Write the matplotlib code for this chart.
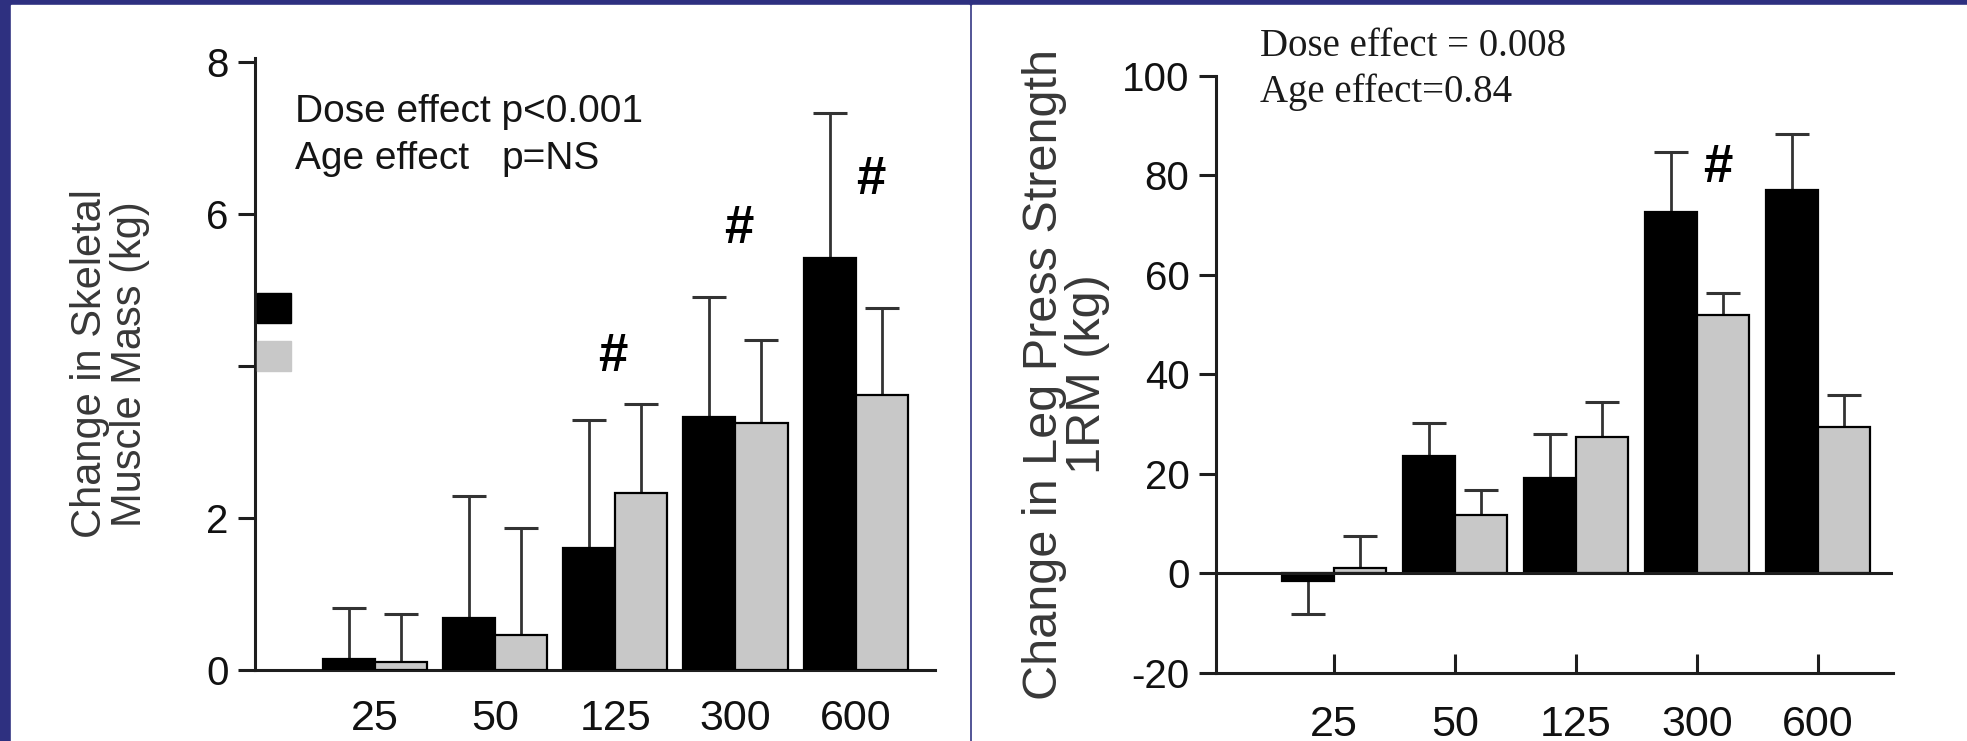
import numpy as np
import matplotlib.pyplot as plt
from matplotlib import font_manager
from matplotlib.patches import Rectangle

plt.rcParams['axes.unicode_minus'] = False

# dose groups (mg)
doses = ['25', '50', '125', '300', '600']

# change in skeletal muscle mass (kg): black = young, gray = older
mass_black = [0.15, 0.68, 1.61, 3.33, 5.42]
mass_black_err = [0.66, 1.61, 1.68, 1.58, 1.91]
mass_gray = [0.11, 0.46, 2.33, 3.25, 3.62]
mass_gray_err = [0.63, 1.41, 1.17, 1.09, 1.14]
mass_sig = ['125', '300', '600']

# change in leg press 1RM (kg)
press_black = [-1.6, 23.6, 19.1, 72.6, 77.0]
press_black_err = [6.5, 6.6, 9.0, 12.1, 11.4]
press_gray = [1.2, 11.8, 27.5, 51.9, 29.4]
press_gray_err = [6.4, 4.9, 6.9, 4.4, 6.5]
press_sig = ['300']

NAVY = '#2e3080'
GRAY = '#c8c8c8'
INK = '#1e1e1e'
ERR = '#333333'

names = {f.name for f in font_manager.fontManager.ttflist}
NARROW = 'Liberation Sans Narrow' in names
SANS = ['Liberation Sans Narrow', 'Liberation Sans'] if NARROW else ['Liberation Sans']
ytick_fs = 34 if NARROW else 29
xtick_fs = 36 if NARROW else 31
note_fs = 32 if NARROW else 28


def draw_bars(ax, black, black_err, gray, gray_err, width):
    x = np.arange(len(doses))
    for vals, errs, off, color in [(black, black_err, -width / 2, 'black'),
                                   (gray, gray_err, width / 2, GRAY)]:
        vals = np.asarray(vals, dtype=float)
        errs = np.asarray(errs, dtype=float)
        pos = x + off
        ax.bar(pos, vals, width, color=color, edgecolor='black', linewidth=1.6, zorder=3)
        tips = vals + np.sign(vals) * errs
        ax.vlines(pos, vals, tips, color=ERR, lw=2.0, zorder=2)
        ax.plot(pos, tips, ls='none', marker='_', ms=24, mew=2.2, color=ERR, zorder=2)


def style_axes(ax):
    ax.set_facecolor('none')
    for side in ['top', 'right']:
        ax.spines[side].set_visible(False)
    for side in ['left', 'bottom']:
        ax.spines[side].set_linewidth(2.2)
        ax.spines[side].set_color(INK)
    ax.set_xticks(np.arange(len(doses)))
    ax.set_xticklabels(doses, fontsize=xtick_fs, family=SANS, color='#111111')
    ax.tick_params(axis='y', direction='out', length=12, width=2.2, color=INK,
                   pad=7, labelsize=ytick_fs, labelcolor='#111111')
    for lab in ax.get_yticklabels():
        lab.set_family(SANS)


fig = plt.figure(figsize=(19.67, 7.41), dpi=100, facecolor=NAVY)
fig.add_artist(Rectangle((11 / 1967, 0), 958 / 1967, 736 / 741,
                         transform=fig.transFigure, color='white', zorder=-1))
fig.add_artist(Rectangle((972 / 1967, 0), 995 / 1967, 736 / 741,
                         transform=fig.transFigure, color='white', zorder=-1))

# left panel: skeletal muscle mass
ax1 = fig.add_axes([0.1296, 0.0958, 0.3457, 0.8259])
draw_bars(ax1, mass_black, mass_black_err, mass_gray, mass_gray_err, 0.433)
ax1.set_xlim(-1.0, 4.66)
ax1.set_ylim(0, 8.05)
ax1.set_yticks([0, 2, 4, 6, 8])
ax1.set_yticklabels(['0', '2', '', '6', '8'])
style_axes(ax1)
ax1.tick_params(axis='x', length=0, pad=21)

for dose, dx, y in zip(mass_sig, [-0.02, 0.03, 0.13], [4.12, 5.8, 6.45]):
    ax1.text(doses.index(dose) + dx, y, '#', ha='center', va='center',
             fontsize=38, fontweight='bold', family='Liberation Sans', color='black')

ax1.text(0.0588, 0.9118, 'Dose effect p<0.001', transform=ax1.transAxes,
         ha='left', va='center', fontsize=note_fs, family=SANS, color='#151515')
ax1.text(0.0588, 0.835, 'Age effect', transform=ax1.transAxes,
         ha='left', va='center', fontsize=note_fs, family=SANS, color='#151515')
ax1.text(0.363, 0.835, 'p=NS', transform=ax1.transAxes,
         ha='left', va='center', fontsize=note_fs, family=SANS, color='#151515')

# group keys
ax1.add_patch(Rectangle((0.003, 0.567), 0.05, 0.049, transform=ax1.transAxes,
                        color='black', clip_on=False, zorder=5))
ax1.add_patch(Rectangle((0.003, 0.4886), 0.05, 0.049, transform=ax1.transAxes,
                        color=GRAY, clip_on=False, zorder=5))

ax1.text(-0.213, 0.5, 'Change in Skeletal\nMuscle Mass (kg)', transform=ax1.transAxes,
         rotation=90, ha='center', va='center', multialignment='center',
         fontsize=30, family='Liberation Sans', color='#383838', linespacing=1.0)

# right panel: leg press strength
ax2 = fig.add_axes([0.6182, 0.0918, 0.3442, 0.8057])
draw_bars(ax2, press_black, press_black_err, press_gray, press_gray_err, 0.43)
ax2.axhline(0, color=INK, lw=2.2, zorder=4)
ax2.set_xlim(-0.975, 4.62)
ax2.set_ylim(-20, 100)
ax2.set_yticks([-20, 0, 20, 40, 60, 80, 100])
style_axes(ax2)
ax2.tick_params(axis='x', direction='in', length=13.7, width=2.2, color=INK, pad=23)

for dose in press_sig:
    ax2.text(doses.index(dose) + 0.17, 81.5, '#', ha='center', va='center',
             fontsize=38, fontweight='bold', family='Liberation Sans', color='black')

ax2.text(0.065, 1.05, 'Dose effect = 0.008', transform=ax2.transAxes,
         ha='left', va='center', fontsize=28, family='Liberation Serif', color='#1a1a1a')
ax2.text(0.065, 0.972, 'Age effect=0.84', transform=ax2.transAxes,
         ha='left', va='center', fontsize=28, family='Liberation Serif', color='#1a1a1a')

ax2.text(-0.222, 0.5, 'Change in Leg Press Strength\n1RM (kg)', transform=ax2.transAxes,
         rotation=90, ha='center', va='center', multialignment='center',
         fontsize=35, family='Liberation Sans', color='#383838', linespacing=0.95)

fig.savefig('out.png', dpi=100, facecolor=fig.get_facecolor())
